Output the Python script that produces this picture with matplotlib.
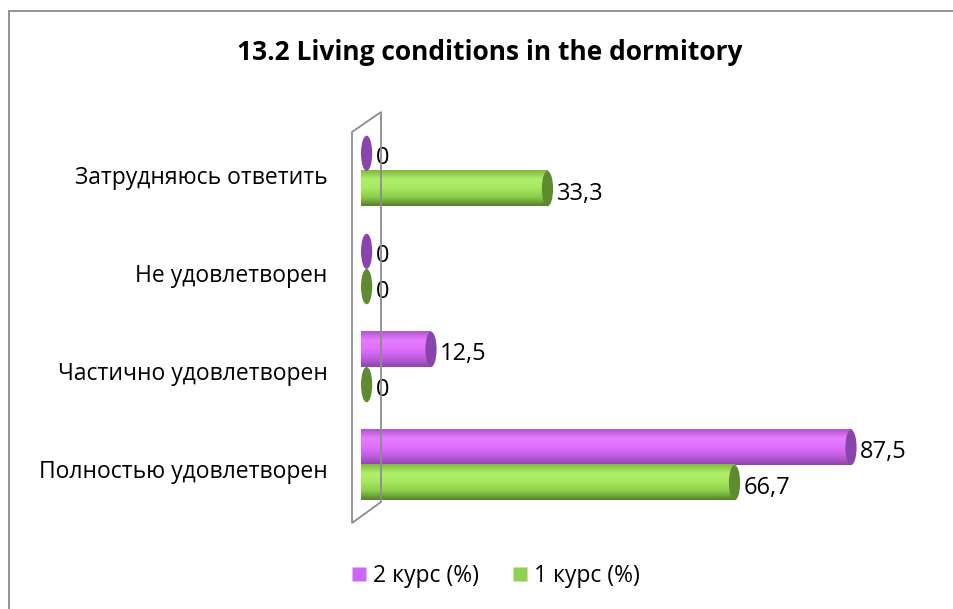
import matplotlib.pyplot as plt
import numpy as np
from matplotlib.patches import Ellipse, Polygon
from matplotlib.colors import LinearSegmentedColormap
from matplotlib.lines import Line2D

plt.rcParams['font.family'] = ['Open Sans', 'DejaVu Sans']

# data (bottom to top)
categories = ['Полностью удовлетворен', 'Частично удовлетворен',
              'Не удовлетворен', 'Затрудняюсь ответить']
course2 = [87.5, 12.5, 0, 0]
course1 = [66.7, 0, 0, 33.3]
series_names = ['2 курс (%)', '1 курс (%)']
title = '13.2 Living conditions in the dormitory'

W, H = 954, 609
fig = plt.figure(figsize=(W / 100, H / 100), dpi=100)

# plot area in pixels: x 361..921, y 110..520
ax = fig.add_axes([361 / W, (H - 520) / H, 560 / W, 410 / H])
ax.set_xlim(0, 100)
ax.set_ylim(-0.561, 3.622)
ax.axis('off')

# back wall (3D look)
wall = Polygon([(352, H - 132), (381, H - 112), (381, H - 502), (352, H - 523)],
               closed=True, fill=False, edgecolor='#8c8c8c', lw=1.3,
               transform=None, zorder=0)
fig.patches.append(wall)

purple = dict(grad=['#b055d0', '#e67dff', '#e070ff', '#c05ee0', '#8e44aa'],
              cap='#8a45ad', legend='#cc66ff')
green = dict(grad=['#7fb840', '#b0ef6c', '#a6e860', '#8dcf4a', '#55802a'],
             cap='#5e8a30', legend='#92d050')

bar_h = 0.36
cap_w = 2.0


def cylinder(v, yc, style):
    y0, y1 = yc - bar_h / 2, yc + bar_h / 2
    if v > 0:
        cmap = LinearSegmentedColormap.from_list('c', style['grad'][::-1])
        grad = np.linspace(0, 1, 64).reshape(-1, 1)
        ax.imshow(grad, extent=[0, v, y0, y1], origin='lower', cmap=cmap,
                  aspect='auto', zorder=2, interpolation='bicubic')
        ax.add_patch(Ellipse((v, yc), cap_w, bar_h, facecolor=style['cap'],
                             edgecolor='none', zorder=3))
        xl = v + cap_w / 2 + 0.6
    else:
        ax.add_patch(Ellipse((1.0, yc), cap_w, bar_h, facecolor=style['cap'],
                             edgecolor='none', zorder=3))
        xl = 2.6
    lab = f'{v:g}'.replace('.', ',')
    ax.text(xl, yc - 0.05, lab, va='center', ha='left', fontsize=17,
            color='black', zorder=4)


for i, cat in enumerate(categories):
    cylinder(course2[i], i + bar_h / 2, purple)
    cylinder(course1[i], i - bar_h / 2, green)
    ax.text(-6.0, i - 0.07, cat, ha='right', va='center', fontsize=16.5,
            color='black')

ax.set_xlim(0, 100)
ax.set_ylim(-0.561, 3.622)

fig.text(490 / W, 1 - 52 / H, title, ha='center', va='center',
         fontsize=19, fontweight='bold')

handles = [Line2D([], [], marker='s', ls='none', markersize=10,
                  markerfacecolor=purple['legend'], markeredgecolor='none'),
           Line2D([], [], marker='s', ls='none', markersize=10,
                  markerfacecolor=green['legend'], markeredgecolor='none')]
fig.legend(handles, series_names, loc='center', bbox_to_anchor=(495 / W, 1 - 576 / H),
           ncol=2, frameon=False, fontsize=16.5, handletextpad=0.2,
           columnspacing=1.4, handlelength=0.8)

# chart border (top and left visible)
fig.add_artist(Line2D([9 / W, 1], [1 - 11 / H, 1 - 11 / H], color='#8c8c8c', lw=1.3))
fig.add_artist(Line2D([9 / W, 9 / W], [1 - 11 / H, 0], color='#8c8c8c', lw=1.3))

fig.savefig('out.png', dpi=100, facecolor='white')
